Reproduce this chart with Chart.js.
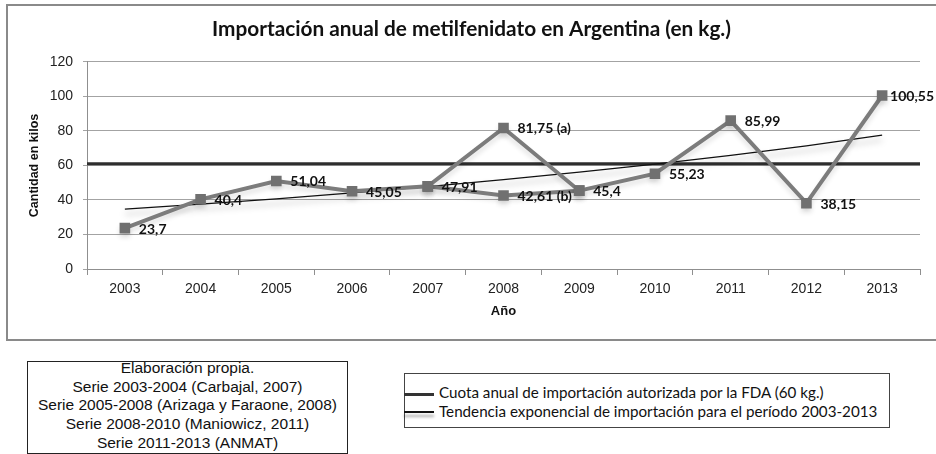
<!DOCTYPE html>
<html>
<head>
<meta charset="utf-8">
<script src="https://cdn.jsdelivr.net/npm/chart.js@4.4.0/dist/chart.umd.min.js"></script>
<style>
  body { margin: 0; background: #fff; width: 936px; height: 454px; overflow: hidden; position: relative; }
  #frame { position: absolute; left: 6px; top: 4px; width: 940px; height: 337px; border: 2px solid #8a8a8a; box-sizing: border-box; }
  #wrap { position: absolute; left: 0; top: 0; width: 936px; height: 340px; }
  #sources { position: absolute; left: 27px; top: 361px; width: 321px; height: 93px; border: 1.5px solid #222; box-sizing: border-box;
    text-align: center; font: 15.5px 'Liberation Sans', Arial, sans-serif; line-height: 18.7px; color: #111; }
  #sources div { position: relative; top: -3px; }
  #legend { position: absolute; left: 404px; top: 373px; width: 486px; height: 55px; border: 1.5px solid #444; box-sizing: border-box;
    font: 15.2px Lato, 'Open Sans', sans-serif; color: #111; }
  .row { position: absolute; left: 34px; white-space: nowrap; }
  .sample { position: absolute; left: -1px; width: 30px; height: 3px; }
</style>
</head>
<body>
<div id="frame"></div>
<div id="wrap"><canvas id="chart"></canvas></div>
<div id="sources"><div>Elaboración propia.<br>Serie 2003-2004 (Carbajal, 2007)<br>Serie 2005-2008 (Arizaga y Faraone, 2008)<br>Serie 2008-2010 (Maniowicz, 2011)<br>Serie 2011-2013 (ANMAT)</div></div>
<div id="legend">
  <div class="sample" style="top:19px;background:#333;"></div>
  <div class="row" style="top:9px;">Cuota anual de importación autorizada por la FDA (60 kg.)</div>
  <div class="sample" style="top:37px;background:#111;box-shadow:0 4px 3px rgba(0,0,0,0.35);height:2px;"></div>
  <div class="row" style="top:28px;">Tendencia exponencial de importación para el período 2003-2013</div>
</div>
<script>
// valores
const years = ['2003', '2004', '2005', '2006', '2007', '2008', '2009', '2010', '2011', '2012', '2013'];
const importKg = [23.7, 40.4, 51.04, 45.05, 47.91, 81.75, 45.4, 55.23, 85.99, 38.15, 100.55];
const importNotes = ['', '', '', '', '', ' (a)', '', '', '', '', ''];
// serie alternativa 2008 (b)
const importKgB = [null, null, null, null, 47.91, 42.61, 45.4, null, null, null, null];
const importNotesB = [null, null, null, null, null, ' (b)', null, null, null, null, null];
const trendKg = [34.7, 37.6, 40.7, 44.1, 47.8, 51.8, 56.1, 60.8, 65.9, 71.4, 77.6];
const quotaKg = 61;

const quotaLine = {
  id: 'quotaLine',
  beforeDatasetsDraw(chart) {
    const {ctx, chartArea, scales} = chart;
    const y = scales.y.getPixelForValue(quotaKg);
    ctx.save();
    ctx.strokeStyle = '#2e2e2e';
    ctx.lineWidth = 3;
    ctx.beginPath();
    ctx.moveTo(chartArea.left, y);
    ctx.lineTo(chartArea.right, y);
    ctx.stroke();
    ctx.restore();
  }
};

const shadowLines = {
  id: 'shadowLines',
  beforeDatasetDraw(chart, args) {
    const ds = chart.data.datasets[args.index];
    chart.ctx.save();
    if (ds.shadow) {
      chart.ctx.shadowColor = ds.shadow;
      chart.ctx.shadowBlur = ds.shadowBlur || 4;
      chart.ctx.shadowOffsetY = ds.shadowY || 4;
    }
  },
  afterDatasetDraw(chart) {
    chart.ctx.restore();
  }
};

const pointLabels = {
  id: 'pointLabels',
  afterDatasetsDraw(chart) {
    const ctx = chart.ctx;
    ctx.save();
    ctx.font = 'bold 14px Lato';
    ctx.fillStyle = '#111';
    ctx.textBaseline = 'middle';
    chart.data.datasets.forEach((ds, di) => {
      if (!ds.notes) return;
      chart.getDatasetMeta(di).data.forEach((pt, i) => {
        if (ds.notes[i] == null || ds.data[i] == null) return;
        const txt = String(ds.data[i]).replace('.', ',') + ds.notes[i];
        const w = ctx.measureText(txt).width;
        let x = pt.x + 14;
        if (x + w > chart.width - 2) x = chart.width - 2 - w;
        ctx.fillText(txt, x, pt.y + 1);
      });
    });
    ctx.restore();
  }
};

const ctx = document.getElementById('chart').getContext('2d');
new Chart(ctx, {
  type: 'line',
  data: {
    labels: years,
    datasets: [
      {
        label: 'Tendencia',
        data: trendKg,
        borderColor: '#111',
        borderWidth: 1.2,
        pointRadius: 0,
        shadow: 'rgba(0,0,0,0.35)',
        shadowBlur: 6,
        shadowY: 5,
        order: 3
      },
      {
        label: 'Importación (b)',
        data: importKgB,
        notes: importNotesB,
        borderColor: '#7c7c7c',
        borderWidth: 4,
        pointStyle: 'rect',
        pointRadius: 7.5,
        pointBackgroundColor: '#707070',
        pointBorderColor: '#707070',
        pointBorderWidth: 0,
        shadow: 'rgba(0,0,0,0.12)',
        shadowBlur: 5,
        shadowY: 4,
        order: 2
      },
      {
        label: 'Importación',
        data: importKg,
        notes: importNotes,
        borderColor: '#7c7c7c',
        borderWidth: 4,
        pointStyle: 'rect',
        pointRadius: 7.5,
        pointBackgroundColor: '#707070',
        pointBorderColor: '#707070',
        pointBorderWidth: 0,
        shadow: 'rgba(0,0,0,0.12)',
        shadowBlur: 5,
        shadowY: 4,
        order: 1
      }
    ]
  },
  options: {
    responsive: true,
    maintainAspectRatio: false,
    animation: false,
    events: [],
    layout: { padding: { left: 23, right: 16, top: 0, bottom: 0 } },
    plugins: {
      legend: { display: false },
      tooltip: { enabled: false },
      title: {
        display: true,
        text: 'Importación anual de metilfenidato en Argentina (en kg.)',
        font: { family: 'Lato', size: 20.8, weight: 'bold' },
        color: '#111',
        padding: { top: 17, bottom: 20 }
      }
    },
    scales: {
      x: {
        offset: true,
        grid: { offset: true, drawOnChartArea: false, tickLength: 6, color: '#8f8f8f' },
        border: { color: '#8f8f8f' },
        ticks: { font: { family: 'Liberation Sans', size: 14 }, color: '#222', padding: 6 },
        title: { display: true, text: 'Año', font: { family: 'Liberation Sans', size: 13, weight: 'bold' }, color: '#111', padding: { top: 4, bottom: 21 } },
        afterFit: s => { s.height = 71; }
      },
      y: {
        min: 0,
        max: 120,
        ticks: { stepSize: 20, font: { family: 'Liberation Sans', size: 14 }, color: '#222', padding: 10 },
        grid: { color: '#a3a3a3', tickLength: 4 },
        border: { color: '#8f8f8f' },
        title: { display: true, text: 'Cantidad en kilos', font: { family: 'Liberation Sans', size: 12.5, weight: 'bold' }, color: '#111', padding: { top: 4, bottom: 0 } },
        afterFit: s => { s.width = 64; }
      }
    }
  },
  plugins: [quotaLine, shadowLines, pointLabels]
});
</script>
</body>
</html>
